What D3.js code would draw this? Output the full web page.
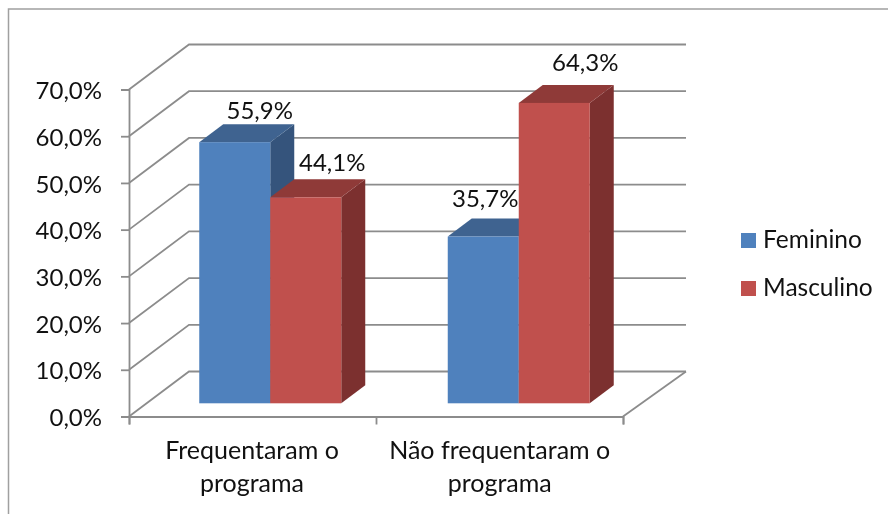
<!DOCTYPE html>
<html>
<head>
<meta charset="utf-8">
<script src="https://cdn.jsdelivr.net/npm/d3@7"></script>
<style>
  html, body { margin: 0; padding: 0; background: #fff; }
  svg { display: block; filter: blur(0.4px); }
  text { font-family: Lato, "Open Sans", sans-serif; font-size: 24.5px; fill: #111; }
</style>
</head>
<body>
<div id="chart"></div>
<script>
var categories = [["Frequentaram o", "programa"], ["Não frequentaram o", "programa"]];
var seriesNames = ["Feminino", "Masculino"];
var feminino = [55.9, 35.7];
var masculino = [44.1, 64.3];
var yTicks = [0, 10, 20, 30, 40, 50, 60, 70];

var width = 888, height = 514;
var values = [feminino, masculino];
var fronts = ["#4f81bd", "#c0504d"];
var tops = ["#3f6390", "#8f3a38"];
var sides = ["#35547c", "#7c302f"];
var gridColor = "#8c8c8c";

// floor depth of the 3d box and of the bars sitting in it
var wallDx = 60, wallDy = 45;
var barDx = 24, barDy = 18;
var barLift = 13.2;

var svg = d3.select("#chart").append("svg")
    .attr("width", width)
    .attr("height", height);

// chart frame, only left and top show in the picture
svg.append("path")
    .attr("d", "M8.5,514V9H888")
    .attr("fill", "none")
    .attr("stroke", "#a0a0a0")
    .attr("stroke-width", 1.5);

var y = d3.scaleLinear().domain([0, 70]).range([416.5, 89.5]);
var xAxisScale = d3.scaleLinear().domain([0, 2]).range([129, 623]);
var xCat = d3.scaleBand().domain([0, 1]).range([146, 643]);
var xSeries = d3.scaleBand().domain([0, 1]).range([53.25, 195.25]);

// back wall and side wall
var wall = svg.append("g")
    .attr("fill", "none")
    .attr("stroke", gridColor)
    .attr("stroke-width", 1.8);

wall.selectAll(".grid")
    .data(yTicks)
  .enter().append("path")
    .attr("class", "grid")
    .attr("d", function(d) {
      var yy = y(d);
      return "M" + xAxisScale(0) + "," + yy +
             "L" + (xAxisScale(0) + wallDx) + "," + (yy - wallDy) +
             "L" + (xAxisScale(2) + wallDx + 3) + "," + (yy - wallDy);
    });

// floor, right edge
wall.append("path")
    .attr("d", "M" + xAxisScale(2) + "," + y(0) +
               "L" + (xAxisScale(2) + wallDx + 3) + "," + (y(0) - wallDy));

// axes
var yAxis = d3.axisLeft(y)
    .tickValues(yTicks)
    .tickSize(8)
    .tickPadding(19)
    .tickFormat(function(d) { return d3.format(".1f")(d).replace(".", ",") + "%"; });

var gy = svg.append("g")
    .attr("transform", "translate(" + xAxisScale(0) + ",0)")
    .call(yAxis);

var xAxis = d3.axisBottom(xAxisScale)
    .tickValues([0, 1, 2])
    .tickSize(8)
    .tickFormat("");

var gx = svg.append("g")
    .attr("transform", "translate(0," + y(0) + ")")
    .call(xAxis);

[gy, gx].forEach(function(g) {
  g.selectAll("path, line").attr("stroke", gridColor).attr("stroke-width", 1.8);
});
gy.selectAll("text").attr("dy", "0.38em").style("font-size", "24px").style("font-family", "Lato");

// category labels
var catCenters = [252, 499.7];
categories.forEach(function(lines, i) {
  lines.forEach(function(line, j) {
    svg.append("text")
      .attr("x", catCenters[i])
      .attr("y", 459 + j * 32.5)
      .attr("text-anchor", "middle")
      .style("font-size", "25px")
      .text(line);
  });
});

// bars, every box is front + top + side
var labelNudge = [[[25, -23.2], [2, -29.6]], [[26.5, -26.4], [31, -31.9]]];

values.forEach(function(vals, s) {
  var g = svg.append("g").attr("class", "series");
  var bars = g.selectAll("g")
      .data(vals)
    .enter().append("g");

  function box(d, i) {
    var x0 = xCat(i) + xSeries(s);
    return {x0: x0, x1: x0 + xSeries.bandwidth(), top: y(d) - barLift, bottom: y(0) - barLift};
  }

  bars.append("path")
      .attr("fill", sides[s])
      .attr("d", function(d, i) {
        var b = box(d, i);
        return "M" + b.x1 + "," + b.top + "L" + (b.x1 + barDx) + "," + (b.top - barDy) +
               "L" + (b.x1 + barDx) + "," + (b.bottom - barDy) + "L" + b.x1 + "," + b.bottom + "Z";
      });

  bars.append("path")
      .attr("fill", tops[s])
      .attr("d", function(d, i) {
        var b = box(d, i);
        return "M" + b.x0 + "," + b.top + "L" + (b.x0 + barDx) + "," + (b.top - barDy) +
               "L" + (b.x1 + barDx) + "," + (b.top - barDy) + "L" + b.x1 + "," + b.top + "Z";
      });

  bars.append("rect")
      .attr("fill", fronts[s])
      .attr("x", function(d, i) { return box(d, i).x0; })
      .attr("y", function(d, i) { return box(d, i).top; })
      .attr("width", xSeries.bandwidth())
      .attr("height", function(d, i) { var b = box(d, i); return b.bottom - b.top; });
});

// data labels go on top of all the bars
values.forEach(function(vals, s) {
  svg.append("g").selectAll("text")
      .data(vals)
    .enter().append("text")
      .attr("text-anchor", "middle")
      .style("font-size", "24px")
      .attr("x", function(d, i) { return xCat(i) + xSeries(s) + xSeries.bandwidth() / 2 + labelNudge[s][i][0]; })
      .attr("y", function(d, i) { return y(d) - barLift + labelNudge[s][i][1]; })
      .text(function(d) { return d3.format(".1f")(d).replace(".", ",") + "%"; });
});

// legend
var legendY = d3.scalePoint().domain(seriesNames).range([240.5, 288.5]);
var legend = svg.append("g").selectAll("g")
    .data(seriesNames)
  .enter().append("g")
    .attr("transform", function(d) { return "translate(741," + legendY(d) + ")"; });

legend.append("rect")
    .attr("y", -7.5)
    .attr("width", 15)
    .attr("height", 15)
    .attr("fill", function(d, i) { return fronts[i]; });

legend.append("text")
    .attr("x", 22)
    .attr("y", 7)
    .text(function(d) { return d; });
</script>
</body>
</html>
